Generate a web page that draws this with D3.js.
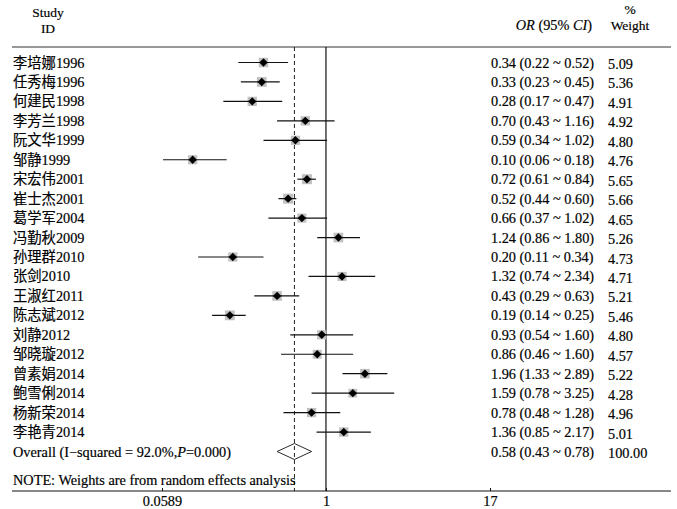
<!DOCTYPE html>
<html>
<head>
<meta charset="utf-8">
<script src="https://cdn.jsdelivr.net/npm/d3@7"></script>
<style>
  html, body { margin: 0; padding: 0; background: #fff; }
  svg { display: block; }
  text { font-family: "Liberation Serif", "Times New Roman", "Noto Sans CJK SC", serif; fill: #000; stroke: #000; stroke-width: 0.18px; }
</style>
</head>
<body>
<svg id="chart" width="677" height="509"></svg>
<script>
// ---- data ----
const studies = ["李培娜1996","任秀梅1996","何建民1998","李芳兰1998","阮文华1999","邹静1999","宋宏伟2001","崔士杰2001","葛学军2004","冯勤秋2009","孙理群2010","张剑2010","王淑红2011","陈志斌2012","刘静2012","邹晓璇2012","曾素娟2014","鲍雪俐2014","杨新荣2014","李艳青2014"];
const orValues = [0.34,0.33,0.28,0.70,0.59,0.10,0.72,0.52,0.66,1.24,0.20,1.32,0.43,0.19,0.93,0.86,1.96,1.59,0.78,1.36];
const ciLower  = [0.22,0.23,0.17,0.43,0.34,0.06,0.61,0.44,0.37,0.86,0.11,0.74,0.29,0.14,0.54,0.46,1.33,0.78,0.48,0.85];
const ciUpper  = [0.52,0.45,0.47,1.16,1.02,0.18,0.84,0.60,1.02,1.80,0.34,2.34,0.63,0.25,1.60,1.60,2.89,3.25,1.28,2.17];
const weights  = [5.09,5.36,4.91,4.92,4.80,4.76,5.65,5.66,4.65,5.26,4.73,4.71,5.21,5.46,4.80,4.57,5.22,4.28,4.96,5.01];
const overallOR = 0.58, overallLower = 0.43, overallUpper = 0.78, overallWeight = "100.00";
const overallLabel = ["Overall (I\u2212squared = 92.0%,", "P", "=0.000)"];
const noteText = "NOTE: Weights are from random effects analysis";
const tickValues = [0.0589, 1, 17];
const tickLabels = ["0.0589", "1", "17"];

// ---- layout ----
const svg = d3.select("#chart");
const fs = 14.3;
const x = d3.scaleLog().domain([0.0589, 17]).range([162, 490]);
const y = d3.scaleLinear().domain([0, 20]).range([62.5, 451.5]);
const topLine = 47, axisY = 491, leftX = 12, rightX = 671;
const orColX = 491, wColX = 608;

const rows = studies.map((s, i) => ({
  name: s, or: orValues[i], lo: ciLower[i], hi: ciUpper[i], w: weights[i], i
}));

// header
const hdr = svg.append("g");
hdr.append("text").attr("x", 48).attr("y", 12).attr("dy", "0.35em").attr("text-anchor", "middle").attr("font-size", 13.5).text("Study");
hdr.append("text").attr("x", 48).attr("y", 28).attr("dy", "0.35em").attr("text-anchor", "middle").attr("font-size", 13.5).text("ID");
const orH = hdr.append("text").attr("x", 592).attr("y", 25).attr("dy", "0.35em").attr("text-anchor", "end").attr("font-size", fs);
orH.append("tspan").attr("font-style", "italic").text("OR");
orH.append("tspan").text(" (95% ");
orH.append("tspan").attr("font-style", "italic").text("CI");
orH.append("tspan").text(")");
hdr.append("text").attr("x", 630).attr("y", 9).attr("dy", "0.35em").attr("text-anchor", "middle").attr("font-size", 13.5).text("%");
hdr.append("text").attr("x", 630).attr("y", 25.5).attr("dy", "0.35em").attr("text-anchor", "middle").attr("font-size", 13.5).text("Weight");

// lines
svg.append("line").attr("x1", leftX).attr("x2", rightX).attr("y1", topLine).attr("y2", topLine)
  .attr("stroke", "#333").attr("stroke-width", 1);
svg.append("line").attr("x1", x(1)).attr("x2", x(1)).attr("y1", topLine).attr("y2", axisY)
  .attr("stroke", "#111").attr("stroke-width", 1.2);
svg.append("line").attr("x1", x(overallOR)).attr("x2", x(overallOR)).attr("y1", topLine).attr("y2", axisY)
  .attr("stroke", "#222").attr("stroke-width", 1).attr("stroke-dasharray", "4,3");

// study rows
const g = svg.append("g");
const rowG = g.selectAll("g.row").data(rows).join("g").attr("class", "row");

rowG.append("rect")
  .attr("x", d => x(d.or) - 2.1 * Math.sqrt(d.w))
  .attr("y", d => y(d.i) - 2.1 * Math.sqrt(d.w))
  .attr("width", d => 4.2 * Math.sqrt(d.w))
  .attr("height", d => 4.2 * Math.sqrt(d.w))
  .attr("fill", "#c0c0c0");

rowG.append("line")
  .attr("x1", d => x(d.lo)).attr("x2", d => x(d.hi))
  .attr("y1", d => y(d.i)).attr("y2", d => y(d.i))
  .attr("stroke", "#111").attr("stroke-width", 1.2);

rowG.append("path")
  .attr("d", d => {
    const cx = x(d.or), cy = y(d.i), r = 4.2;
    return `M${cx - r},${cy}L${cx},${cy - r}L${cx + r},${cy}L${cx},${cy + r}Z`;
  })
  .attr("fill", "#000");

rowG.append("text")
  .attr("x", 13).attr("y", d => y(d.i)).attr("dy", "0.35em").attr("font-size", fs)
  .text(d => d.name);

rowG.append("text")
  .attr("x", orColX).attr("y", d => y(d.i)).attr("dy", "0.35em").attr("font-size", fs)
  .text(d => `${d.or.toFixed(2)} (${d.lo.toFixed(2)} ~ ${d.hi.toFixed(2)})`);

rowG.append("text")
  .attr("x", wColX).attr("y", d => y(d.i) + 1.5).attr("dy", "0.35em").attr("font-size", fs)
  .text(d => d.w.toFixed(2));

// overall
const oy = y(20);
svg.append("path")
  .attr("d", `M${x(overallLower)},${oy}L${x(overallOR)},${oy - 8}L${x(overallUpper)},${oy}L${x(overallOR)},${oy + 8}Z`)
  .attr("fill", "none").attr("stroke", "#111").attr("stroke-width", 0.9);
const ot = svg.append("text").attr("x", 13).attr("y", oy).attr("dy", "0.35em").attr("font-size", fs);
ot.append("tspan").text(overallLabel[0]);
ot.append("tspan").attr("font-style", "italic").text(overallLabel[1]);
ot.append("tspan").text(overallLabel[2]);
svg.append("text").attr("x", orColX).attr("y", oy).attr("dy", "0.35em").attr("font-size", fs)
  .text(`${overallOR.toFixed(2)} (${overallLower.toFixed(2)} ~ ${overallUpper.toFixed(2)})`);
svg.append("text").attr("x", wColX).attr("y", oy + 1.5).attr("dy", "0.35em").attr("font-size", fs)
  .text(overallWeight);

// note
svg.append("text").attr("x", 13).attr("y", 480).attr("dy", "0.35em").attr("font-size", fs).text(noteText);

// axis
svg.append("line").attr("x1", leftX).attr("x2", rightX).attr("y1", axisY).attr("y2", axisY)
  .attr("stroke", "#111").attr("stroke-width", 1);
const axis = d3.axisBottom(x).tickValues(tickValues).tickFormat((d, i) => tickLabels[i])
  .tickSizeInner(-3).tickSizeOuter(0).tickPadding(7);
const ag = svg.append("g").attr("transform", `translate(0,${axisY})`).call(axis);
ag.select(".domain").remove();
ag.selectAll(".tick line").attr("stroke", "#111");
ag.selectAll(".tick text").attr("font-size", fs).attr("font-family", "Liberation Serif, serif").attr("fill", "#000").attr("y", 5);
</script>
</body>
</html>
